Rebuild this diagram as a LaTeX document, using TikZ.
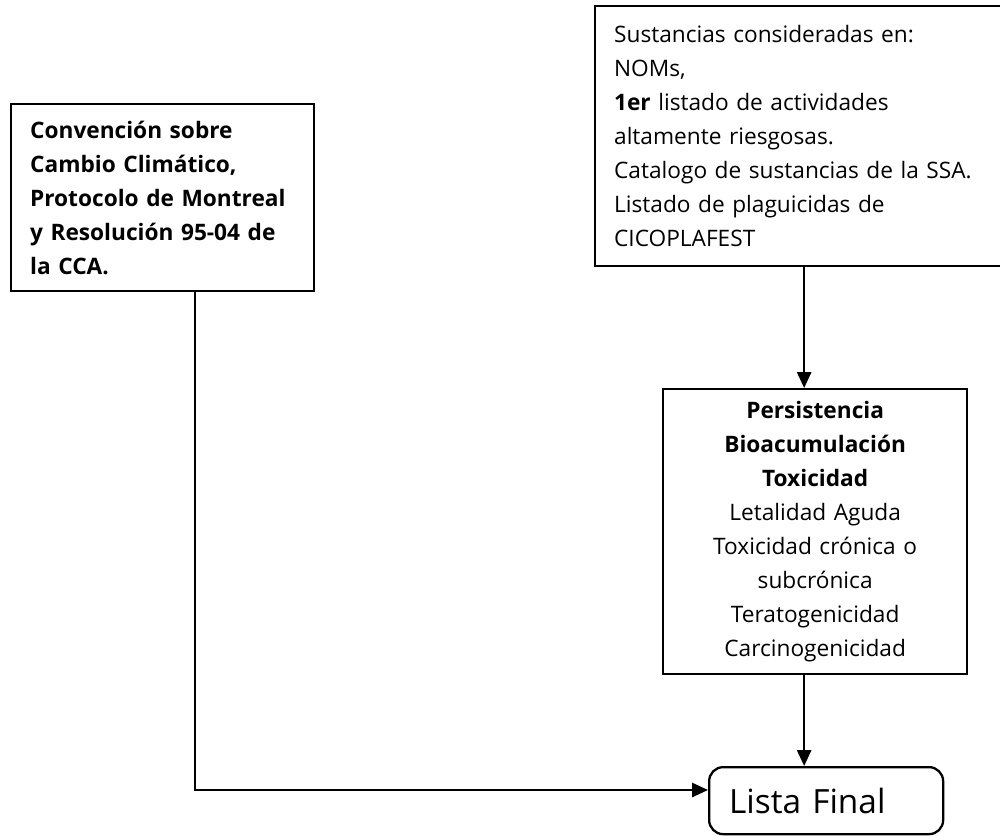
\documentclass[tikz,border=0pt]{standalone}
\usepackage{fontspec}
\setmainfont{Open Sans}
\usetikzlibrary{arrows.meta}
\usetikzlibrary{positioning, calc}

\begin{document}
\begin{tikzpicture}[x=0.02cm,y=-0.02cm]
      \tikzset{>={Triangle[length=9pt,width=8pt]}} % filled arrow head
      \def\px{0.02cm} % one pixel of the layout

      \tikzset{
        box/.style={draw,line width=1.3pt,anchor=north west,inner sep=0pt,
          font=\fontsize{12.9}{19.4}\selectfont},
        conn/.style={line width=1.3pt,->}
      }

      \useasboundingbox (0,0) rectangle (1000,835);

      % BOXES
      \node[box,minimum width=303*\px,minimum height=187*\px,
        text width=265*\px,align=left,inner xsep=19*\px] (conv) at (10,103)
        {\bfseries Convención sobre\\ Cambio Climático,\\ Protocolo de Montreal\\
         y Resolución 95-04 de\\ la CCA.};
      \node[box,minimum width=418*\px,minimum height=260*\px,
        text width=380*\px,align=left,inner xsep=19*\px] (sust) at (594,5)
        {Sustancias consideradas en:\\ NOMs,\\ \textbf{1er} listado de actividades\\
         altamente riesgosas.\\ Catalogo de sustancias de la SSA.\\
         Listado de plaguicidas de\\ CICOPLAFEST};
      \node[box,minimum width=304*\px,minimum height=285*\px,
        text width=290*\px,align=center,inner xsep=7*\px] (crit) at (662,388)
        {\bfseries Persistencia\\ Bioacumulación\\ Toxicidad\\ \mdseries
         Letalidad Aguda\\ Toxicidad crónica o\\ subcrónica\\
         Teratogenicidad\\ Carcinogenicidad};
      \node[box,rounded corners=8pt,minimum width=234*\px,minimum height=67*\px,
        text width=194*\px,align=left,inner xsep=20*\px,
        font=\fontsize{19}{22}\selectfont] (lista) at (708,766) {Lista Final};

      \coordinate (bend) at (195,790);

      % CONNECTORS
      \draw[conn] (sust.south) -- (sust.south |- crit.north);
      \draw[conn] (crit.south -| sust.south) -- (sust.south |- lista.north);
      \draw[conn] (conv.south -| bend) -- (bend) -- (bend -| lista.west);

\end{tikzpicture}
\end{document}
